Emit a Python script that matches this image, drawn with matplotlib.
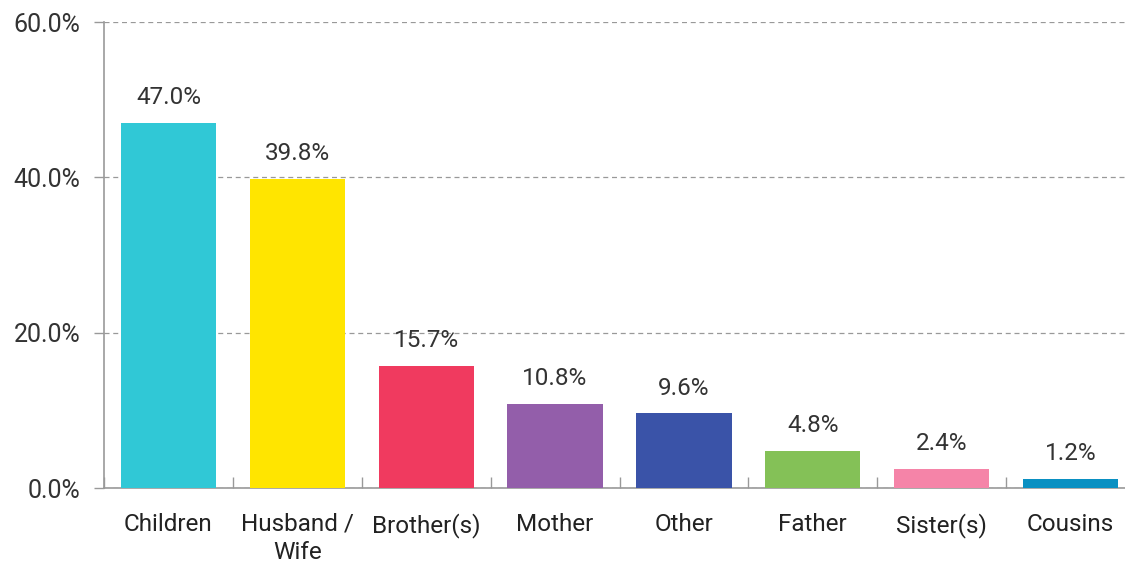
import matplotlib
matplotlib.use("Agg")
import matplotlib.pyplot as plt
import numpy as np

categories = ["Children", "Husband /\nWife", "Brother(s)", "Mother", "Other",
              "Father", "Sister(s)", "Cousins"]
values = [47.0, 39.8, 15.7, 10.8, 9.6, 4.8, 2.4, 1.2]
colors = ["#30C8D6", "#FFE500", "#F03A5F", "#935EAA", "#3A53A8",
          "#84C157", "#F584A8", "#0A90C2"]
y_ticks = [0, 20, 40, 60]

plt.rcParams["font.family"] = ["Roboto", "DejaVu Sans"]

W, H = 1125, 564
fig = plt.figure(figsize=(W / 100, H / 100), dpi=100)
# axis runs past the right edge of the picture, as in the original
ax = fig.add_axes([104 / W, 76 / H, 1031 / W, 466 / H])

x = np.arange(len(categories))
ax.bar(x, values, width=0.74, color=colors, zorder=3)

for xi, v in zip(x, values):
    ax.annotate(f"{v:.1f}%", (xi, v), xytext=(0, 10), textcoords="offset points",
                ha="center", va="bottom", fontsize=17.5, color="#333333")

ax.set_xlim(-0.5, len(categories) - 0.5)
ax.set_ylim(0, 60)
ax.set_yticks(y_ticks)
ax.set_yticklabels([f"{t:.1f}%" for t in y_ticks], fontsize=18, color="#333333")
ax.grid(axis="y", color="#999999", linestyle=(0, (4, 3)), linewidth=0.9, zorder=0)

ax.set_xticks(x)
ax.set_xticklabels(categories, fontsize=17.5, color="#222222", linespacing=1.3)
ax.tick_params(axis="x", length=0, pad=18)
ax.set_xticks(np.arange(len(categories) + 1) - 0.5, minor=True)
ax.tick_params(axis="x", which="minor", direction="in", length=8,
               color="#999999", width=1)
ax.tick_params(axis="y", direction="out", length=7, color="#999999", width=1, pad=10)

for side in ["top", "right"]:
    ax.spines[side].set_visible(False)
for side in ["left", "bottom"]:
    ax.spines[side].set_color("#999999")
    ax.spines[side].set_linewidth(1.2)

fig.savefig("out.png", dpi=100)
